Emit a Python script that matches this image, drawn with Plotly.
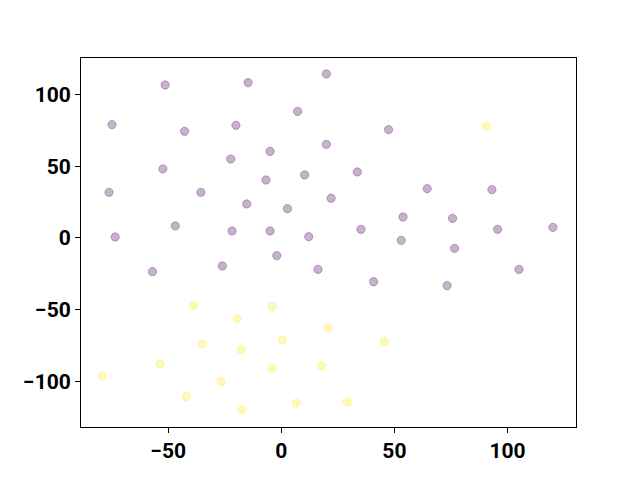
import plotly.graph_objects as go

purple_x = [-51.4, -14.7, 19.9, 7.2, -74.9, -42.8, -20.1, 19.9, -5.0, -22.4, -52.4, 10.3, -6.8,
            -76.2, -35.6, 22.0, -15.3, 2.7, -73.5, -46.9, -21.8, -5.0, 12.1, 47.4, 33.6, 64.5,
            93.1, 53.8, 75.7, 35.2, 95.6, 120.1, 53.0, 76.6, -57.0, -26.1, -2.0, 16.2, 105.1,
            40.8, 73.3]
purple_y = [106.6, 108.2, 114.3, 88.2, 79.0, 74.3, 78.5, 65.2, 60.3, 55.0, 48.1, 43.9, 40.4,
            31.8, 31.8, 27.7, 23.7, 20.4, 0.7, 8.4, 4.9, 4.9, 0.9, 75.5, 46.0, 34.4,
            33.7, 14.6, 13.7, 6.0, 6.0, 7.4, -1.7, -7.2, -23.5, -19.5, -12.3, -21.9, -21.9,
            -30.5, -33.2]

yellow_x = [-38.9, -4.1, -19.6, 20.7, -34.9, -17.8, 0.4, -53.6, -4.0, 17.8, -79.2, -26.6,
            -42.0, -17.4, 6.6, 45.5, 29.2, 90.7]
yellow_y = [-47.2, -47.9, -56.2, -62.6, -73.9, -78.0, -71.1, -87.8, -90.9, -89.2, -96.2, -99.9,
            -110.6, -119.7, -115.0, -72.1, -114.3, 78.0]

x_ticks = [-50, 0, 50, 100]
y_ticks = [-100, -50, 0, 50, 100]

PURPLE = "rgba(68,1,84,0.3)"
YELLOW = "rgba(253,231,37,0.3)"

fig = go.Figure()
fig.add_trace(go.Scatter(x=purple_x, y=purple_y, mode="markers",
                         marker=dict(size=8.3, color=PURPLE, line=dict(color=PURPLE, width=1)),
                         showlegend=False))
fig.add_trace(go.Scatter(x=yellow_x, y=yellow_y, mode="markers",
                         marker=dict(size=8.3, color=YELLOW, line=dict(color=YELLOW, width=1)),
                         showlegend=False))

axis_common = dict(showgrid=False, zeroline=False, showline=True, linecolor="black",
                   linewidth=1, mirror=True, ticks="outside", ticklen=5, tickcolor="black",
                   tickwidth=1, tickfont=dict(family="Roboto", size=21, color="black", weight="bold"))

fig.update_layout(
    width=632, height=472,
    margin=dict(l=73, r=64, t=50, b=53),
    paper_bgcolor="white", plot_bgcolor="white",
    xaxis=dict(range=[-88.6, 130.3], tickvals=x_ticks, **axis_common),
    yaxis=dict(range=[-131.7, 125.4], tickvals=y_ticks, **axis_common),
)

fig.write_html("out.html")
